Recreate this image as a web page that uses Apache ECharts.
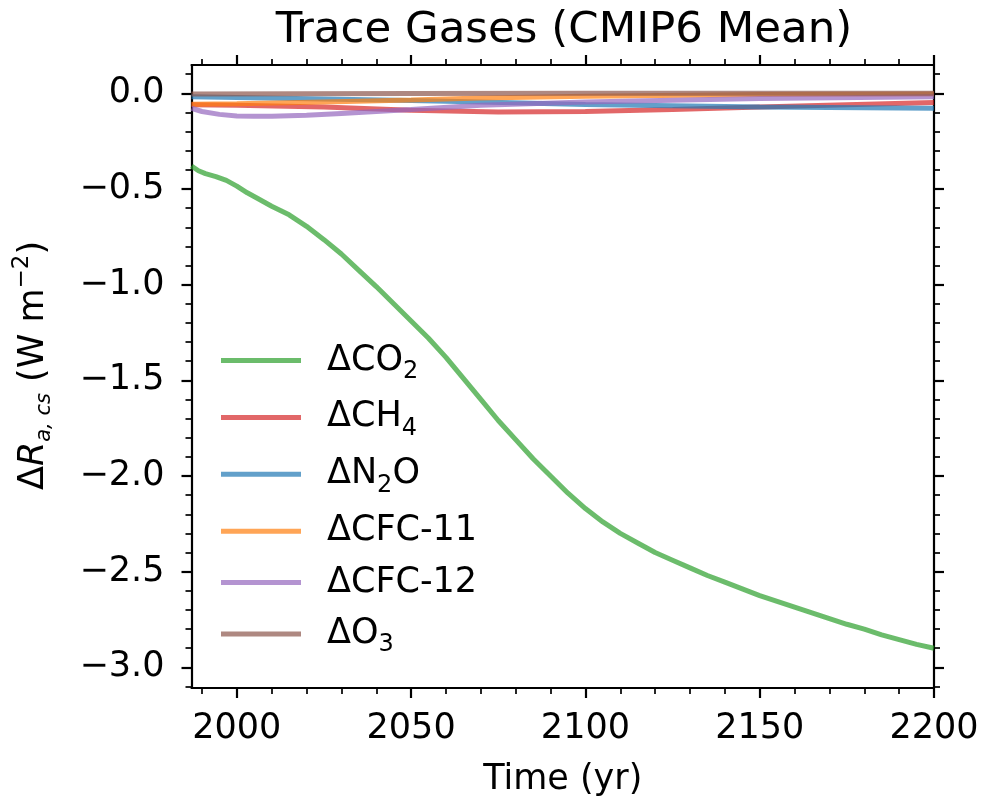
<!DOCTYPE html>
<html><head><meta charset="utf-8">
<script src="https://cdn.jsdelivr.net/npm/echarts@6/dist/echarts.min.js"></script>
<style>html,body{margin:0;padding:0;background:#fff}#c{width:986px;height:802px}</style>
</head><body><div id="c"></div>
<script>
// ---- data ----
const co2Years = [1987,1989,1991,1994,1997,2000,2003,2006,2010,2015,2020,2025,2030,2035,2040,2045,2050,2055,2060,2065,2070,2075,2080,2085,2090,2095,2100,2105,2110,2115,2120,2125,2130,2135,2140,2145,2150,2155,2160,2165,2170,2175,2180,2185,2190,2195,2200];
const co2 = [-0.38,-0.405,-0.42,-0.435,-0.455,-0.485,-0.52,-0.55,-0.59,-0.635,-0.695,-0.765,-0.84,-0.925,-1.01,-1.10,-1.19,-1.28,-1.38,-1.49,-1.60,-1.71,-1.81,-1.91,-2.00,-2.09,-2.17,-2.24,-2.30,-2.35,-2.40,-2.44,-2.48,-2.52,-2.555,-2.59,-2.625,-2.655,-2.685,-2.715,-2.745,-2.775,-2.80,-2.83,-2.855,-2.88,-2.90];

const ch4Years = [1987,2000,2025,2050,2075,2100,2125,2150,2175,2200];
const ch4 = [-0.060,-0.063,-0.072,-0.088,-0.098,-0.095,-0.085,-0.072,-0.060,-0.048];

const n2oYears = [1987,2000,2025,2050,2070,2100,2150,2200];
const n2o = [-0.018,-0.022,-0.030,-0.038,-0.046,-0.058,-0.072,-0.078];

const cfc11Years = [1987,2000,2025,2050,2070,2100,2150,2200];
const cfc11 = [-0.057,-0.055,-0.045,-0.035,-0.025,-0.015,-0.006,-0.003];

const cfc12Years = [1987,1990,1995,2000,2005,2010,2020,2030,2040,2050,2070,2100,2150,2200];
const cfc12 = [-0.078,-0.095,-0.110,-0.118,-0.120,-0.120,-0.115,-0.105,-0.095,-0.085,-0.062,-0.045,-0.027,-0.018];

const o3Years = [1987,2050,2100,2200];
const o3 = [-0.003,-0.001,0.000,0.000];

const seriesNames = ['CO2','CH4','N2O','CFC-11','CFC-12','O3'];
const legendLabels = {
  'CO2': '{f|ΔCO}{s|2}',
  'CH4': '{f|ΔCH}{s|4}',
  'N2O': '{f|ΔN}{s|2}{m|O}',
  'CFC-11': '{f|ΔCFC-11}',
  'CFC-12': '{f|ΔCFC-12}',
  'O3': '{f|ΔO}{s|3}'
};
const colors = ['#2ca02c','#d62728','#1f77b4','#ff7f0e','#9467bd','#8c564b'];

const xMajor = [2000,2050,2100,2150,2200];
const xMinor = [1990,2010,2020,2030,2040,2060,2070,2080,2090,2110,2120,2130,2140,2160,2170,2180,2190];
const yMajor = [-3.0,-2.5,-2.0,-1.5,-1.0,-0.5,0.0];
const yMinor = [-3.1,-2.9,-2.8,-2.7,-2.6,-2.4,-2.3,-2.2,-2.1,-1.9,-1.8,-1.7,-1.6,-1.4,-1.3,-1.2,-1.1,-0.9,-0.8,-0.7,-0.6,-0.4,-0.3,-0.2,-0.1,0.1];

const X_MIN = 1987, X_MAX = 2200, Y_MIN = -3.108, Y_MAX = 0.148;

// ---- chart ----
const FF = 'DejaVu Sans';
const FS = 35;
const chart = echarts.init(document.getElementById('c'), null, {renderer: 'canvas'});

function pairs(xs, ys){ return xs.map((x,i)=>[x, ys[i]]); }
const allData = [pairs(co2Years,co2), pairs(ch4Years,ch4), pairs(n2oYears,n2o), pairs(cfc11Years,cfc11), pairs(cfc12Years,cfc12), pairs(o3Years,o3)];

const lineCol = '#000';
function xAx(pos, ticks, len, w, showLine, showLabel){
  return {
    type: 'value', position: pos, min: X_MIN, max: X_MAX,
    axisLine: {show: showLine, onZero: false, lineStyle: {color: lineCol, width: 2.2}},
    axisTick: {show: true, inside: false, length: len, customValues: ticks, lineStyle: {color: lineCol, width: w}},
    axisLabel: {show: showLabel, customValues: ticks, margin: 23, fontFamily: FF, fontSize: FS, color: '#000', formatter: v => String(v)},
    splitLine: {show: false}
  };
}
function fmtY(v){
  const r = Math.round(v*10)/10;
  if (r === 0) return '0.0';
  return (r < 0 ? '\u2212' : '') + Math.abs(r).toFixed(1);
}
function yAx(pos, ticks, len, w, showLine, showLabel){
  return {
    type: 'value', position: pos, min: Y_MIN, max: Y_MAX,
    axisLine: {show: showLine, onZero: false, lineStyle: {color: lineCol, width: 2.2}},
    axisTick: {show: true, inside: false, length: len, customValues: ticks, lineStyle: {color: lineCol, width: w}},
    axisLabel: {show: showLabel, customValues: ticks, margin: 27, fontFamily: FF, fontSize: FS, color: '#000', formatter: fmtY},
    splitLine: {show: false}
  };
}

const xAxes = [
  xAx('bottom', xMajor, 10, 2.2, true, true),
  xAx('bottom', xMinor, 6, 1.7, false, false),
  xAx('top', xMajor, 10, 2.2, true, false),
  xAx('top', xMinor, 6, 1.7, false, false)
];
Object.assign(xAxes[0], {
  name: 'Time (yr)', nameLocation: 'middle', nameGap: 74,
  nameTextStyle: {fontFamily: FF, fontSize: FS, color: '#000'}
});
const yAxes = [
  yAx('left', yMajor, 10, 2.2, true, true),
  yAx('left', yMinor, 6, 1.7, false, false),
  yAx('right', yMajor, 10, 2.2, true, false),
  yAx('right', yMinor, 6, 1.7, false, false)
];
Object.assign(yAxes[0], {
  name: '{d|Δ}{ri|R}{sb|a, cs}{n| (W m}{sp|\u22122}{n|)}',
  nameLocation: 'middle', nameRotate: 90, nameGap: 138,
  nameTextStyle: {
    fontFamily: FF, fontSize: FS, color: '#000',
    rich: {
      d: {fontFamily: FF, fontSize: FS, lineHeight: 40, color: '#000', padding: [0,0,0,22]},
      n: {fontFamily: FF, fontSize: FS, lineHeight: 40, color: '#000'},
      ri: {fontFamily: FF, fontSize: FS, fontStyle: 'italic', lineHeight: 40, color: '#000'},
      sb: {fontFamily: FF, fontSize: 21, fontStyle: 'italic', verticalAlign: 'bottom', height: 17, lineHeight: 17, color: '#000'},
      sp: {fontFamily: FF, fontSize: 23, verticalAlign: 'top', height: 18, lineHeight: 18, color: '#000'}
    }
  }
});

const series = seriesNames.map((nm, i) => ({
  name: nm, type: 'line', xAxisIndex: 0, yAxisIndex: 0,
  data: allData[i], symbol: 'none', showSymbol: false, smooth: false,
  color: colors[i],
  lineStyle: {width: 5, color: colors[i], opacity: 0.7},
  itemStyle: {color: colors[i], opacity: 0.7},
  emphasis: {disabled: true}, animation: false
}));

chart.setOption({
  animation: false,
  backgroundColor: '#fff',
  title: {
    text: 'Trace Gases (CMIP6 Mean)', left: 564, top: 9, padding: 0, textAlign: 'center',
    textStyle: {fontFamily: FF, fontSize: 43.5, fontWeight: 'normal', color: '#000'}
  },
  grid: {left: 191.5, right: 52, top: 65, bottom: 113, containLabel: false},
  legend: {
    orient: 'vertical', left: 221, top: 343, padding: 0,
    icon: 'rect', itemWidth: 80, itemHeight: 5, itemGap: 16.4,
    data: seriesNames,
    formatter: nm => legendLabels[nm],
    textStyle: {
      fontFamily: FF, fontSize: FS, color: '#000',
      rich: {
        f: {fontFamily: FF, fontSize: FS, lineHeight: 40, color: '#000', padding: [0,0,0,21]},
        m: {fontFamily: FF, fontSize: FS, lineHeight: 40, color: '#000'},
        s: {fontFamily: FF, fontSize: 24, verticalAlign: 'bottom', height: 18, lineHeight: 18, color: '#000'}
      }
    },
    selectedMode: false
  },
  xAxis: xAxes,
  yAxis: yAxes,
  series: series
});
</script>
</body></html>
